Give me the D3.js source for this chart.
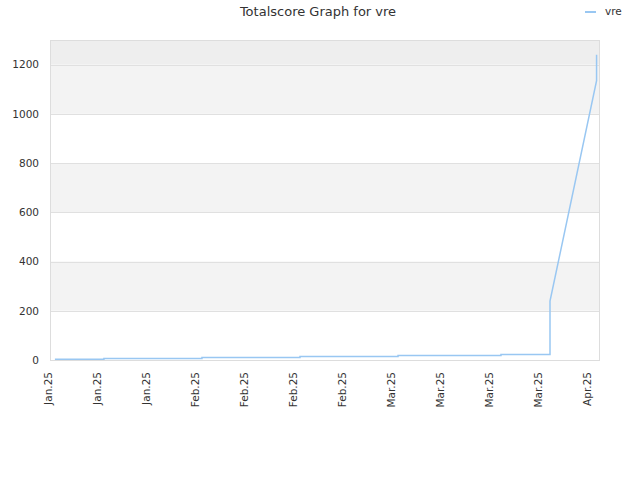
<!DOCTYPE html>
<html><head><meta charset="utf-8">
<script src="https://cdn.jsdelivr.net/npm/d3@7"></script>
<style>body{margin:0;background:#fff;}svg{display:block;font-family:"DejaVu Sans",sans-serif;}</style>
</head><body>
<svg id="c" width="640" height="480"></svg>
<script>
const title = "Totalscore Graph for vre";
const seriesName = "vre";
const tickLabels = ["Jan.25","Jan.25","Jan.25","Feb.25","Feb.25","Feb.25","Feb.25","Mar.25","Mar.25","Mar.25","Mar.25","Apr.25"];
const tickDays = [0,10,20,30,40,50,60,70,80,90,100,110];
const days =   [1, 11, 11, 31, 31, 51, 51, 71, 71, 92, 92, 102, 102, 111.5, 111.5];
const scores = [3, 3,  6,  6,  10, 10, 14, 14, 18, 18, 22, 22,  239, 1135, 1240];
const yTicks = [0,200,400,600,800,1000,1200];

const svg = d3.select("#c");
const L=50, R=600, T=40, B=360;
const x = d3.scaleLinear().domain([0,112.2]).range([L,R]);
const y = d3.scaleLinear().domain([0,1300]).range([B,T]);

// bands
const bands = [[1200,1300,"#eeeeee"],[1000,1200,"#f3f3f3"],[800,1000,"#ffffff"],[600,800,"#f3f3f3"],[400,600,"#ffffff"],[200,400,"#f3f3f3"],[0,200,"#ffffff"]];
svg.selectAll("rect.band").data(bands).join("rect")
  .attr("x",L).attr("width",R-L)
  .attr("y",d=>y(d[1])).attr("height",d=>y(d[0])-y(d[1]))
  .attr("fill",d=>d[2]);
// grid
svg.selectAll("line.grid").data(yTicks).join("line")
  .attr("x1",L).attr("x2",R).attr("y1",d=>Math.round(y(d))+0.5).attr("y2",d=>Math.round(y(d))+0.5)
  .attr("stroke","#e0e0e0");
svg.append("rect").attr("x",L+0.5).attr("y",T+0.5).attr("width",R-L-1).attr("height",B-T)
  .attr("fill","none").attr("stroke","#dddddd");

// y axis labels
const ya = svg.append("g").attr("transform",`translate(${L},0)`)
  .call(d3.axisLeft(y).tickValues(yTicks).tickFormat(d3.format("d")).tickSize(0).tickPadding(11));
ya.select(".domain").remove();
ya.selectAll("text").attr("fill","#333").style("font-size","10.5px").style("font-family","DejaVu Sans");

// x axis labels
const xa = svg.append("g").attr("transform",`translate(0,${B})`)
  .call(d3.axisBottom(x).tickValues(tickDays).tickFormat((d,i)=>tickLabels[i]).tickSize(0));
xa.select(".domain").remove();
xa.selectAll("text").attr("fill","#333").style("font-size","10.5px").style("font-family","DejaVu Sans")
  .attr("transform","rotate(-90)").attr("text-anchor","end").attr("x",-12).attr("y",-2).attr("dy","0.35em");

// line
const pts = days.map((d,i)=>[d,scores[i]]);
svg.append("path").datum(pts)
  .attr("d",d3.line().x(d=>x(d[0])).y(d=>y(d[1])))
  .attr("fill","none").attr("stroke","#99c7f2").attr("stroke-width",1.5);

// title
svg.append("text").attr("x",318).attr("y",16).attr("text-anchor","middle")
  .attr("fill","#333").style("font-size","13px").text(title);
// legend
svg.append("line").attr("x1",585).attr("x2",596).attr("y1",12).attr("y2",12).attr("stroke","#99c7f2").attr("stroke-width",2);
svg.append("text").attr("x",605).attr("y",15).attr("fill","#333").style("font-size","10.5px").text(seriesName);
</script>
</body></html>
